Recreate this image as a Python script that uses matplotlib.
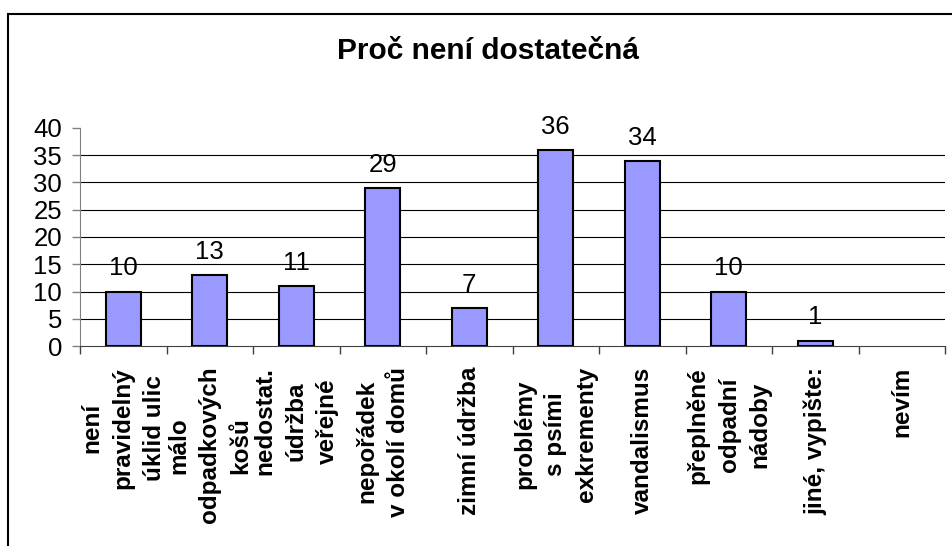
import numpy as np
import matplotlib
matplotlib.use("Agg")
import matplotlib.pyplot as plt
from matplotlib.patches import Rectangle

plt.rcParams['font.family'] = ['Liberation Sans', 'DejaVu Sans']

# data
categories = [
    "není\npravidelný\núklid ulic",
    "málo\nodpadkových\nkošů",
    "nedostat.\núdržba\nveřejné",
    "nepořádek\nv okolí domů",
    "zimní údržba",
    "problémy\ns psími\nexkrementy",
    "vandalismus",
    "přeplněné\nodpadní\nnádoby",
    "jiné, vypište:",
    "nevím",
]
counts = [10, 13, 11, 29, 7, 36, 34, 10, 1, 0]
y_ticks = [0, 5, 10, 15, 20, 25, 30, 35, 40]
title = "Proč není dostatečná"

W, H = 953, 546
fig = plt.figure(figsize=(W / 100, H / 100), dpi=100)
ax = fig.add_axes([80 / W, 1 - 346 / H, 865 / W, 218 / H])

x = np.arange(len(categories))
# "nevím" has no answers -> no bar drawn
shown = [i for i, v in enumerate(counts) if v > 0]
ax.bar([x[i] for i in shown], [counts[i] for i in shown], width=0.41,
       color='#9999FF', edgecolor='black', linewidth=1.5, zorder=3)

for i in shown:
    ax.annotate(str(counts[i]), (x[i], counts[i]), xytext=(0, 8),
                textcoords='offset points', ha='center', va='bottom', fontsize=18.5)

# horizontal gridlines
for t in y_ticks[1:-1]:
    ax.axhline(t, color='black', linewidth=0.8, zorder=1)

ax.set_xlim(-0.5, len(categories) - 0.5)
ax.set_ylim(0, 40)
ax.set_yticks(y_ticks)
ax.tick_params(axis='y', labelsize=18.5, length=6, width=1, color='#808080', pad=7)

ax.set_xticks(x)
ax.set_xticklabels(categories, rotation=90, fontweight='bold', fontsize=17.5,
                   va='top', ha='center', linespacing=1.45)
ax.set_xticks(np.arange(-0.5, len(categories)), minor=True)
ax.tick_params(axis='x', which='major', length=0, pad=15)
ax.tick_params(axis='x', which='minor', length=6, width=1, color='#404040')

for s in ['top', 'right']:
    ax.spines[s].set_visible(False)
ax.spines['left'].set_color('#808080')
ax.spines['bottom'].set_color('#404040')

fig.text(488 / W, 1 - 51 / H, title, ha='center', va='center',
         fontsize=21.5, fontweight='bold')

# outer chart border
fig.patches.append(Rectangle((8.5 / W, -0.1), 1.2, 1 - 14 / H + 0.1,
                             transform=fig.transFigure, fill=False,
                             edgecolor='black', linewidth=1.5))

fig.savefig("out.png", dpi=100)
